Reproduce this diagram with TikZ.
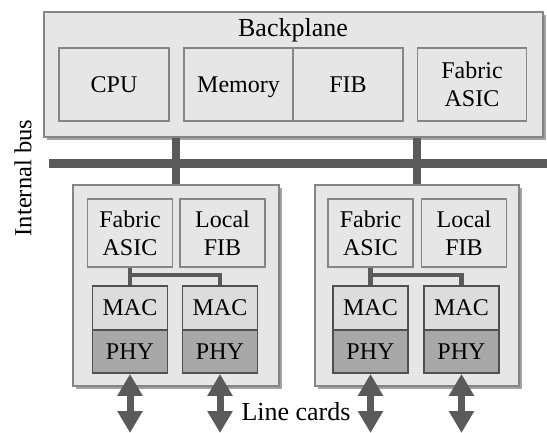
\documentclass[tikz,border=0pt]{standalone}
\usepackage{fontspec}
\setmainfont{Liberation Serif}
\usetikzlibrary{arrows.meta,shadows}

\definecolor{boxfill}{HTML}{E6E6E6}
\definecolor{boxedge}{HTML}{858585}
\definecolor{shadefill}{HTML}{A3A3A3}
\definecolor{wire}{HTML}{5A5A5A}
\definecolor{macfill}{HTML}{DCDCDC}
\definecolor{phyfill}{HTML}{A8A8A8}
\definecolor{chipedge}{HTML}{505050}

\begin{document}
\begin{tikzpicture}[x=1pt,y=-1pt,
    every node/.style={font=\fontsize{24}{28}\selectfont},
    title/.style={anchor=base,font=\fontsize{26}{30}\selectfont},
    panel/.style={draw=boxedge,fill=boxfill,line width=1.6pt,inner sep=0pt,
        drop shadow={shadow xshift=3pt,shadow yshift=-3pt,fill=shadefill,opacity=1}},
    unit/.style={draw=boxedge,fill=boxfill,line width=1.6pt,inner sep=0pt,align=center,minimum height=73pt},
    chip/.style={draw=boxedge,fill=boxfill,line width=1.6pt,inner sep=0pt,align=center,minimum width=85pt,minimum height=68pt},
    mac/.style={draw=chipedge,fill=macfill,line width=1.8pt,inner sep=0pt,minimum width=75pt,minimum height=44pt},
    phy/.style={draw=chipedge,fill=phyfill,line width=1.8pt,inner sep=0pt,minimum width=75pt,minimum height=43pt},
    bus/.style={draw=wire,line width=9pt},
    link/.style={draw=wire,line width=4.5pt},
    io/.style={draw=wire,line width=7pt,{Triangle[width=24pt,length=22pt]}-{Triangle[width=24pt,length=22pt]}}]
    \useasboundingbox (0,0) rectangle (547,433);

    % backplane
    \node[panel,minimum width=499pt,minimum height=125pt] (bp) at (293.5,74.5) {};
    \node[title] (bptitle) at (293,37) {Backplane};
    \node[unit,minimum width=110pt] (cpu) at (114,84.5) {CPU};
    \node[unit,minimum width=109pt,text depth=0pt] (mem) at (238.5,84.5) {Memory};
    \node[unit,minimum width=110pt] (fib) at (348,84.5) {FIB};
    \node[unit,minimum width=109pt] (bpasic) at (472,84.5) {Fabric\\ASIC};

    % internal bus
    \coordinate (busL) at (49,164);
    \coordinate (busR) at (547,164);
    \draw[bus] (busL) -- (busR);
    \node[rotate=90,font=\fontsize{24.5}{28}\selectfont] (busname) at (23,178) {Internal bus};

    % line cards
    \node[panel,minimum width=206pt,minimum height=201pt] (lc1) at (176,285.5) {};
    \node[panel,minimum width=204pt,minimum height=201pt] (lc2) at (417,285.5) {};
    \draw[line width=8pt,wire] (bp.south -| lc1.north) -- (lc1.north);
    \draw[line width=8pt,wire] (bp.south -| lc2.north) -- (lc2.north);

    \node[chip] (asic1) at (130,233) {Fabric\\ASIC};
    \node[chip] (lfib1) at (222.5,233) {Local\\FIB};
    \node[mac] (mac1a) at (130,308) {MAC};
    \node[phy] (phy1a) at (130,351.5) {PHY};
    \node[mac] (mac1b) at (220,308) {MAC};
    \node[phy] (phy1b) at (220,351.5) {PHY};
    \coordinate (j1) at (130,275);
    \draw[link] (asic1.south) -- (mac1a.north);
    \draw[link] (j1) -| (mac1b.north);

    \node[chip] (asic2) at (370.5,233) {Fabric\\ASIC};
    \node[chip] (lfib2) at (464,233) {Local\\FIB};
    \node[mac] (mac2a) at (370.5,308) {MAC};
    \node[phy] (phy2a) at (370.5,351.5) {PHY};
    \node[mac] (mac2b) at (461.5,308) {MAC};
    \node[phy] (phy2b) at (461.5,351.5) {PHY};
    \coordinate (j2) at (370.5,275);
    \draw[link] (asic2.south) -- (mac2a.north);
    \draw[link] (j2) -| (mac2b.north);

    % ports
    \coordinate (out1a) at (130,433);
    \coordinate (out1b) at (220,433);
    \coordinate (out2a) at (370.5,433);
    \coordinate (out2b) at (461.5,433);
    \draw[io] (phy1a.south) -- (out1a);
    \draw[io] (phy1b.south) -- (out1b);
    \draw[io] (phy2a.south) -- (out2a);
    \draw[io] (phy2b.south) -- (out2b);
    \node[title] (lcname) at (296,420) {Line cards};
\end{tikzpicture}
\end{document}
